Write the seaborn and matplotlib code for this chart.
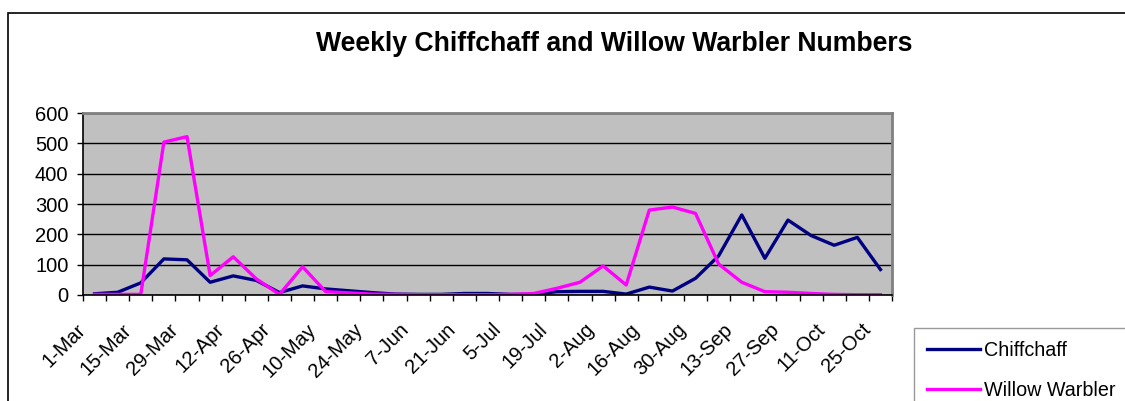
import matplotlib
matplotlib.use("Agg")
import matplotlib.pyplot as plt
import matplotlib.transforms as mtransforms
from matplotlib.patches import Rectangle
import seaborn as sns
import pandas as pd

# Dados semanais (leitura aproximada do gráfico)
weeks = ["1-Mar", "8-Mar", "15-Mar", "22-Mar", "29-Mar", "5-Apr", "12-Apr",
         "19-Apr", "26-Apr", "3-May", "10-May", "17-May", "24-May", "31-May",
         "7-Jun", "14-Jun", "21-Jun", "28-Jun", "5-Jul", "12-Jul", "19-Jul",
         "26-Jul", "2-Aug", "9-Aug", "16-Aug", "23-Aug", "30-Aug", "6-Sep",
         "13-Sep", "20-Sep", "27-Sep", "4-Oct", "11-Oct", "18-Oct", "25-Oct"]
chiffchaff = [4, 9, 40, 119, 116, 42, 63, 48, 8, 30,
              20, 14, 8, 3, 2, 2, 5, 5, 2, 2,
              11, 12, 12, 3, 26, 13, 55, 129, 264, 121,
              247, 196, 164, 190, 84]
willow_warbler = [2, 2, 2, 504, 522, 64, 126, 53, 2, 93,
                  11, 7, 3, 2, 1, 1, 1, 1, 2, 5,
                  22, 42, 96, 33, 280, 290, 269, 102, 42, 11,
                  9, 5, 2, 1, 1]
species = ["Chiffchaff", "Willow Warbler"]
colors = ["#000080", "#FF00FF"]
y_ticks = [0, 100, 200, 300, 400, 500, 600]

plt.rcParams['font.family'] = ['Liberation Sans', 'DejaVu Sans']

n = len(weeks)
df = pd.DataFrame({
    'idx': list(range(n)) * 2,
    'Numero': chiffchaff + willow_warbler,
    'Especie': [species[0]] * n + [species[1]] * n,
})

W, H = 1125, 401
fig = plt.figure(figsize=(W / 100, H / 100), dpi=100)

# Moldura externa do gráfico
fig.patches.append(Rectangle((8 / W, -0.1), 1.2, 1 - 13 / H + 0.1,
                             transform=fig.transFigure, fill=False,
                             edgecolor='black', linewidth=1.2))

ax = fig.add_axes([83 / W, 1 - 295 / H, (892 - 83) / W, (295 - 113) / H])
ax.set_facecolor('#C0C0C0')

sns.lineplot(data=df, x='idx', y='Numero', hue='Especie', hue_order=species,
             palette=colors, linewidth=2.4, ax=ax, legend=False)

ax.set_xlim(-0.5, n - 0.5)
ax.set_ylim(0, 600)
ax.set_yticks(y_ticks)
ax.set_yticklabels([str(v) for v in y_ticks], fontsize=14.5)
ax.tick_params(axis='y', length=4.5, width=1, color='black', pad=6)
ax.yaxis.grid(True, color='black', linewidth=1)
ax.set_axisbelow(True)

# Marcas nas fronteiras das categorias, rótulos a cada duas semanas
ax.set_xticks([i - 0.5 for i in range(n + 1)], minor=True)
ax.set_xticks(list(range(0, n, 2)))
ax.set_xticklabels(weeks[::2], fontsize=14.5, rotation=45,
                   ha='right', va='top', rotation_mode='anchor')
ax.tick_params(axis='x', which='major', length=0, pad=18)
ax.tick_params(axis='x', which='minor', length=4.5, width=1, color='black')
offset = mtransforms.ScaledTranslation(-19 / 100, 0, fig.dpi_scale_trans)
for lbl in ax.get_xticklabels():
    lbl.set_transform(lbl.get_transform() + offset)

ax.set_xlabel("")
ax.set_ylabel("")
for side in ['top', 'right']:
    ax.spines[side].set_color('#808080')
    ax.spines[side].set_linewidth(2)
for side in ['left', 'bottom']:
    ax.spines[side].set_color('black')
    ax.spines[side].set_linewidth(1.2)

fig.text(614 / W, 1 - 44 / H, "Weekly Chiffchaff and Willow Warbler Numbers",
         ha='center', va='center', fontsize=19.2, fontweight='bold')

handles = [plt.Line2D([], [], color=c, linewidth=2.4) for c in colors]
leg = fig.legend(handles, species, loc='upper left',
                 bbox_to_anchor=(914 / W, 1 - 328 / H),
                 fontsize=14.2, frameon=True, fancybox=False,
                 handlelength=2.7, handletextpad=0.2, labelspacing=1.05,
                 borderpad=0.65, borderaxespad=0)
leg.get_frame().set_edgecolor('#808080')
leg.get_frame().set_linewidth(1)

fig.savefig("out.png", dpi=100)
